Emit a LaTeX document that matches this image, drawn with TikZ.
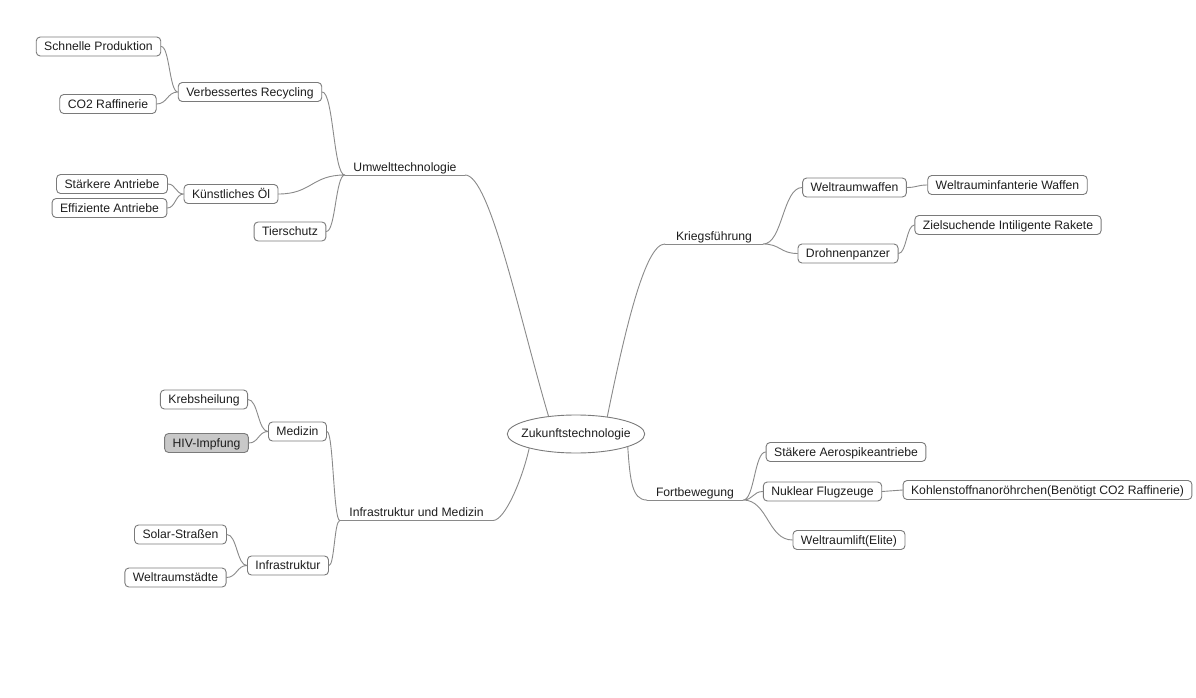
\documentclass[tikz,border=0pt]{standalone}
\usepackage{fontspec}
\setmainfont{Liberation Sans}
\usetikzlibrary{shapes.geometric,calc}
\definecolor{lineGray}{HTML}{8A8A8A}
\definecolor{boxGray}{HTML}{7A7A7A}
\definecolor{textInk}{HTML}{1E1E1E}
\definecolor{hivFill}{HTML}{C8C8C8}

\tikzset{
  leaf/.style={draw=boxGray,rounded corners=4pt,fill=white,text=textInk,line width=.9pt,
    inner xsep=8pt,inner ysep=3.2pt,text height=10.6pt,text depth=2pt},
  topic/.style={text=textInk,anchor=south,inner xsep=0pt,inner ysep=1.5pt,
    text height=10.6pt,text depth=2pt},
  wire/.style={draw=lineGray,line width=.9pt},
  link/.style={wire,to path={let \p1=(\tikztostart),\p2=(\tikztotarget) in
    .. controls ({(\x1+\x2)/2},\y1) and ({(\x1+\x2)/2},\y2) .. (\tikztotarget)}},
}

\begin{document}
\begin{tikzpicture}[x=1pt,y=-1pt,font=\fontsize{12.2}{14}\selectfont,line cap=round,line join=round]
  \fill[white] (0,0) rectangle (1196,698);
  \useasboundingbox (0,0) rectangle (1196,698);

  % centre
  \node[ellipse,draw=boxGray,line width=.9pt,text=textInk,inner xsep=-6pt,inner ysep=0pt,
    minimum height=38pt] (Zk) at (576,434) {Zukunftstechnologie};

  % main topics, underlined
  \node[topic,minimum width=120pt] (Umw) at (405,175) {Umwelttechnologie};
  \node[topic,minimum width=153pt] (Inf) at (416.5,520.5) {Infrastruktur und Medizin};
  \node[topic,minimum width=98pt] (Krg) at (714,244) {Kriegsführung};
  \node[topic,minimum width=96pt] (Frt) at (695,500) {Fortbewegung};
  \draw[wire] (Umw.south west) -- (Umw.south east);
  \draw[wire] (Inf.south west) -- (Inf.south east);
  \draw[wire] (Krg.south west) -- (Krg.south east);
  \draw[wire] (Frt.south west) -- (Frt.south east);

  \draw[wire] (Zk.147) .. controls (520,320) and (490,175) .. (Umw.south east);
  \draw[wire] (Zk.29) .. controls (625,330) and (645,244) .. (Krg.south west);
  \draw[wire] (Zk.-14) .. controls (630,480) and (632,500) .. (Frt.south west);
  \draw[wire] (Zk.197) .. controls (522,480) and (505,520) .. (Inf.south east);

  % Umwelttechnologie
  \node[leaf] (VR) at (250,92) {Verbessertes Recycling};
  \node[leaf] (SP) at (98.5,46.5) {Schnelle Produktion};
  \node[leaf] (CO) at (108,104) {CO2 Raffinerie};
  \node[leaf] (KO) at (231,194) {Künstliches Öl};
  \node[leaf] (SA) at (112,184) {Stärkere Antriebe};
  \node[leaf] (EA) at (109.5,208) {Effiziente Antriebe};
  \node[leaf] (TS) at (290,231.5) {Tierschutz};

  % Infrastruktur und Medizin
  \node[leaf] (Md) at (297.5,431.5) {Medizin};
  \node[leaf] (Kh) at (204,399.5) {Krebsheilung};
  \node[leaf,fill=hivFill] (HIV) at (206.5,443) {HIV-Impfung};
  \node[leaf] (IS) at (288,565.5) {Infrastruktur};
  \node[leaf] (SS) at (180.5,534.5) {Solar-Straßen};
  \node[leaf] (WS) at (175.5,577.5) {Weltraumstädte};

  % Kriegsführung
  \node[leaf] (WW) at (854.5,187.5) {Weltraumwaffen};
  \node[leaf] (WI) at (1007.5,185) {Weltrauminfanterie Waffen};
  \node[leaf] (DP) at (848,253.5) {Drohnenpanzer};
  \node[leaf] (ZR) at (1008,225) {Zielsuchende Intiligente Rakete};

  % Fortbewegung
  \node[leaf] (SAe) at (846,452) {Stäkere Aerospikeantriebe};
  \node[leaf] (NF) at (822.5,491.5) {Nuklear Flugzeuge};
  \node[leaf] (KN) at (1047.5,490) {Kohlenstoffnanoröhrchen(Benötigt CO2 Raffinerie)};
  \node[leaf] (WL) at (849,540) {Weltraumlift(Elite)};

  % branches
  \draw[link] (Umw.south west) to (VR.east) (Umw.south west) to (KO.east)
    (Umw.south west) to (TS.east);
  \draw[link] (VR.west) to (SP.east) (VR.west) to (CO.east);
  \draw[link] (KO.west) to (SA.east) (KO.west) to (EA.east);
  \draw[link] (Inf.south west) to (Md.east) (Inf.south west) to (IS.east);
  \draw[link] (Md.west) to (Kh.east) (Md.west) to (HIV.east);
  \draw[link] (IS.west) to (SS.east) (IS.west) to (WS.east);
  \draw[link] (Krg.south east) to (WW.west) (Krg.south east) to (DP.west);
  \draw[link] (WW.east) to (WI.west);
  \draw[link] (DP.east) to (ZR.west);
  \draw[link] (Frt.south east) to (SAe.west) (Frt.south east) to (NF.west)
    (Frt.south east) to (WL.west);
  \draw[link] (NF.east) to (KN.west);
\end{tikzpicture}
\end{document}
